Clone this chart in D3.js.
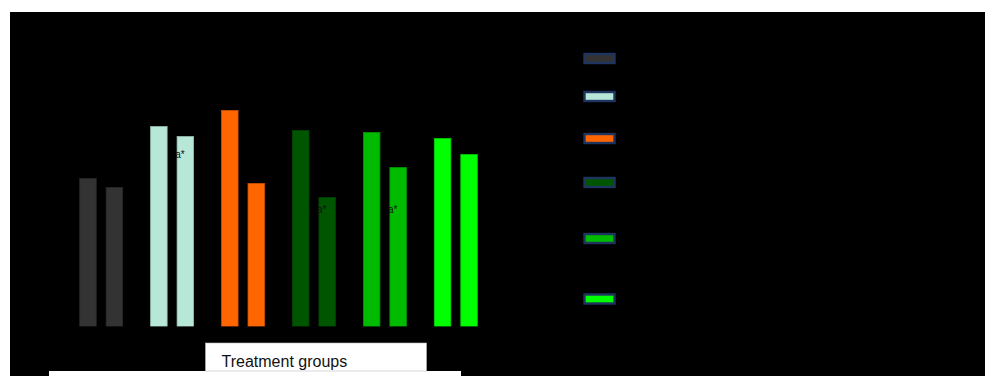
<!DOCTYPE html>
<html>
<head>
<meta charset="utf-8">
<script src="https://cdn.jsdelivr.net/npm/d3@7"></script>
<style>
  html, body { margin: 0; padding: 0; background: #ffffff; }
  svg { display: block; font-family: "Liberation Sans", Arial, sans-serif; }
</style>
</head>
<body>
<svg id="chart" width="985" height="376"></svg>
<script>
// Treatment groups, the two measurements per group, and the group colours
const groups = ["G1", "G2", "G3", "G4", "G5", "G6"];
const timepoints = ["t1", "t2"];
const valuesT1 = [59.2, 80.0, 86.4, 78.4, 77.6, 75.2];
const valuesT2 = [55.6, 76.0, 57.2, 51.6, 63.6, 68.8];
const groupColors = ["#333333", "#b7e8d7", "#ff6600", "#005500", "#00bb00", "#00ff00"];

// Significance marks (group, level on the value axis)
const marks = [
  { group: "G2", text: "a*", value: 67.6 },
  { group: "G4", text: "a*", value: 45.6 },
  { group: "G5", text: "a*", value: 45.6 }
];

const xTitle = "Treatment groups";

const svg = d3.select("#chart");

// dark plotting panel
svg.append("rect")
  .attr("x", 10).attr("y", 12)
  .attr("width", 975).attr("height", 364)
  .attr("fill", "#000000");

const x = d3.scaleBand()
  .domain(groups)
  .range([65.5, 491.5])
  .paddingInner(0.394)
  .paddingOuter(0.2);

const xSub = d3.scaleBand()
  .domain(timepoints)
  .range([0, x.bandwidth()])
  .paddingInner(0.376);

const y = d3.scaleLinear()
  .domain([0, 100])
  .range([326.5, 76.5]);

const rows = groups.map((g, i) => ({
  group: g,
  color: groupColors[i],
  vals: [
    { t: "t1", v: valuesT1[i] },
    { t: "t2", v: valuesT2[i] }
  ]
}));

// bars
const gGroups = svg.append("g").selectAll("g")
  .data(rows)
  .join("g")
  .attr("transform", d => `translate(${x(d.group)},0)`);

gGroups.selectAll("rect")
  .data(d => d.vals.map(v => ({ ...v, color: d.color })))
  .join("rect")
  .attr("x", d => xSub(d.t))
  .attr("y", d => y(d.v))
  .attr("width", xSub.bandwidth())
  .attr("height", d => y(0) - y(d.v))
  .attr("fill", d => d.color)
  .attr("stroke", d => d3.color(d.color).darker(0.6))
  .attr("stroke-width", 0.8);

// axes, drawn in black
const axisG = svg.append("g").attr("color", "#000000");
axisG.append("g")
  .attr("transform", `translate(0,${y(0)})`)
  .call(d3.axisBottom(x).tickSize(0).tickFormat(""));
axisG.append("g")
  .attr("transform", `translate(65.5,0)`)
  .call(d3.axisLeft(y).ticks(5).tickFormat(""));

// significance marks
svg.append("g").selectAll("text")
  .data(marks)
  .join("text")
  .attr("x", d => x(d.group) + xSub("t2") + 7.5)
  .attr("y", d => y(d.value))
  .attr("text-anchor", "end")
  .attr("font-size", 10)
  .attr("fill", "#111111")
  .text(d => d.text);

// legend swatches
const legendY = [54, 92, 134, 178, 234, 294.5];
svg.append("g").selectAll("rect")
  .data(groups)
  .join("rect")
  .attr("x", 584.5)
  .attr("y", (d, i) => legendY[i])
  .attr("width", 30)
  .attr("height", 9)
  .attr("fill", (d, i) => groupColors[i])
  .attr("stroke", "#1f3560")
  .attr("stroke-width", 2.4);

// axis title boxes
svg.append("rect")
  .attr("x", 49).attr("y", 371)
  .attr("width", 412).attr("height", 10)
  .attr("fill", "#ffffff");
svg.append("rect")
  .attr("x", 205.5).attr("y", 343)
  .attr("width", 221).attr("height", 28)
  .attr("fill", "#ffffff")
  .attr("stroke", "#bbbbbb")
  .attr("stroke-width", 0.6);
svg.append("text")
  .attr("x", 221.5)
  .attr("y", 366.5)
  .attr("font-size", 16)
  .attr("fill", "#111111")
  .text(xTitle);
</script>
</body>
</html>
